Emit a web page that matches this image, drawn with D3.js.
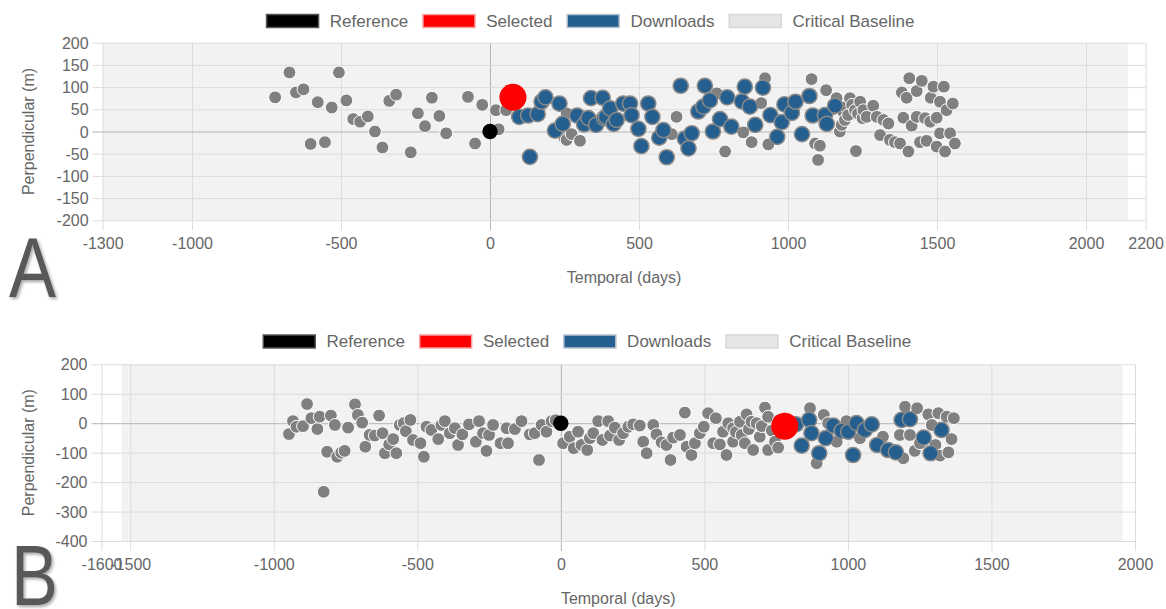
<!DOCTYPE html>
<html><head><meta charset="utf-8">
<script src="https://cdn.jsdelivr.net/npm/d3@7"></script>
<style>
html,body{margin:0;padding:0;background:#fff;}
svg{display:block;font-family:"Liberation Sans",Arial,sans-serif;}
</style></head>
<body><svg id="c" width="1166" height="609"></svg>
<script>
// ---------- DATA ----------
const legendLabels = ["Reference", "Selected", "Downloads", "Critical Baseline"];

// Chart A
const xTicksA = [-1300, -1000, -500, 0, 500, 1000, 1500, 2000, 2200];
const yTicksA = [-200, -150, -100, -50, 0, 50, 100, 150, 200];
const baselineA = [[-1300, -200], [2140, 200]];
const referenceA = [[0, 0]];
const selectedA = [[77, 77]];
const grayA = [[-721,77],[-673,133],[-651,88],[-626,95],[-602,-28],[-578,66],[-554,-24],[-531,54],[-507,133],[-482,70],[-459,28],[-436,22],[-410,34],[-386,0],[-361,-36],[-338,69],[-315,83],[-266,-47],[-242,41],[-218,12],[-195,76],[-170,35],[-147,-4],[-74,78],[-50,-27],[-26,60],[20,48],[29,5],[54,48],
[250,-15],[257,-19],[274,-6],[302,-21],[257,41],[414,15],[610,-6],[626,33],[761,86],[789,-45],
[850,-2],[878,-24],[910,64],[923,120],[934,-29],[1079,118],[1091,-27],[1101,-64],[1107,-32],[1128,93],[1150,50],[1163,75],[1174,0],[1180,15],[1185,45],[1191,26],[1195,55],[1202,37],[1208,75],[1215,60],[1225,48],[1228,-44],[1235,40],[1242,67],[1250,30],[1253,48],[1264,33],[1286,58],[1298,33],[1309,-8],[1320,26],[1337,18],[1342,-19],[1359,-24],[1376,-27],[1382,88],[1387,31],[1398,76],[1404,-45],[1407,120],[1415,13],[1432,91],[1432,33],[1443,-24],[1449,114],[1460,30],[1465,-21],[1477,22],[1479,76],[1488,101],[1499,31],[1499,-34],[1510,67],[1510,-4],[1523,101],[1527,-45],[1532,48],[1544,-4],[1553,63],[1560,-27]];
const downloadsA = [[98,33],[128,36],[160,39],[173,67],[186,77],[233,63],[134,-57],[218,2],[244,17],[292,36],[316,16],[330,30],[339,75],[378,76],[356,15],[383,30],[389,33],[403,52],[415,17],[425,26],[447,63],[470,63],[475,37],[498,6],[531,63],[545,33],[508,-33],[568,-14],[582,3],[593,-58],[640,103],[721,103],[654,-16],[666,-38],[677,-4],[699,45],[716,56],[738,70],[748,0],[772,28],[796,77],[810,11],[845,68],[855,101],[872,56],[890,15],[916,99],[941,37],[964,-12],[979,21],[988,61],[1013,42],[1025,67],[1047,-6],[1072,80],[1083,36],[1124,37],[1130,17],[1158,58]];

// Chart B
const xTicksB = [-1600, -1500, -1000, -500, 0, 500, 1000, 1500, 2000];
const yTicksB = [-400, -300, -200, -100, 0, 100, 200];
const baselineB = [[-1530, -400], [1957, 200]];
const referenceB = [[0, 0]];
const selectedB = [[780, -10]];
const grayB = [[-947,-37],[-933,7],[-921,-12],[-898,-10],[-884,65],[-869,17],[-848,-20],[-840,22],[-826,-233],[-814,-97],[-801,26],[-787,-6],[-779,-114],[-765,-100],[-753,-94],[-741,-15],[-717,64],[-707,28],[-692,2],[-681,-80],[-666,-40],[-648,-42],[-633,26],[-621,-34],[-613,-102],[-598,-72],[-584,-54],[-573,-102],[-561,-6],[-547,0],[-540,-27],[-524,11],[-515,-57],[-489,-68],[-477,-114],[-468,-12],[-451,-23],[-427,-54],[-416,-6],[-404,7],[-387,-34],[-369,-17],[-358,-74],[-343,-38],[-320,-4],[-296,-63],[-285,7],[-271,-34],[-259,-94],[-250,-40],[-236,-6],[-210,-68],[-189,-17],[-184,-68],[-160,-20],[-137,7],[-108,-38],[-91,-34],[-76,-125],[-67,-6],[-50,-29],[-32,7],[-18,10],[8,-68],[31,-46],[45,-85],[60,-29],[72,-74],[92,-91],[101,-51],[113,-34],[130,7],[145,-57],[165,7],[171,-42],[188,-15],[203,-57],[217,-34],[235,-12],[252,-4],[275,-8],[287,-63],[299,-102],[322,-6],[333,-38],[351,-65],[368,-74],[382,-125],[391,-49],[415,-40],[432,36],[438,-80],[455,-108],[467,-68],[484,-34],[498,-12],[513,34],[531,-68],[540,17],[554,-72],[565,-29],[577,-108],[583,0],[600,-63],[600,-17],[610,-30],[624,5],[630,-40],[641,-68],[647,30],[655,-20],[664,5],[670,-91],[682,0],[693,-46],[700,-10],[711,53],[722,22],[722,-91],[735,-25],[746,-63],[757,-83],[760,10],[868,51],[891,-136],[916,28],[931,0],[961,-63],[995,7],[1042,-51],[1122,-46],[1181,-40],[1193,-119],[1199,56],[1216,-40],[1233,-94],[1241,51],[1251,-68],[1280,30],[1292,-6],[1305,-74],[1315,34],[1321,-110],[1344,22],[1350,-99],[1361,-54],[1369,17]];
const downloadsB = [[819,-4],[839,-76],[865,11],[873,-34],[900,-102],[923,-51],[949,-8],[978,-26],[1001,-29],[1018,-108],[1030,0],[1059,-23],[1083,-4],[1102,-74],[1140,-91],[1167,-99],[1187,11],[1216,14],[1264,-49],[1288,-102],[1326,-23]];

// ---------- STYLE / LAYOUT ----------
const colors = {ref:"#000000", sel:"#ff0000", dl:"#245f8f", gray:"#808080", base:"#f2f2f2"};
const svg = d3.select("#c");
const defs = svg.append("defs");
const f = defs.append("filter").attr("id","shadow").attr("x","-20%").attr("y","-20%").attr("width","150%").attr("height","150%");
f.append("feDropShadow").attr("dx",2).attr("dy",2).attr("stdDeviation",1.8).attr("flood-color","#000").attr("flood-opacity",0.35);

function drawChart(o){
  const g = svg.append("g");
  const x = d3.scaleLinear().domain(d3.extent(o.xTicks)).range([o.left, o.right]);
  const y = d3.scaleLinear().domain(d3.extent(o.yTicks)).range([o.bottom, o.top]);
  const clipId = "clip"+o.id;
  defs.append("clipPath").attr("id",clipId).append("rect")
    .attr("x",o.left).attr("y",o.top).attr("width",o.right-o.left).attr("height",o.bottom-o.top);

  // baseline region
  g.append("rect").attr("clip-path",`url(#${clipId})`)
    .attr("x",x(o.baseline[0][0])).attr("y",y(o.baseline[1][1]))
    .attr("width",x(o.baseline[1][0])-x(o.baseline[0][0]))
    .attr("height",y(o.baseline[0][1])-y(o.baseline[1][1]))
    .attr("fill",colors.base);

  const fmt = d => String(d);
  // grid
  const xAxis = d3.axisBottom(x).tickValues(o.xTicks).tickSize(-(o.bottom-o.top)).tickFormat(fmt);
  const gx = g.append("g").attr("transform",`translate(0,${o.bottom})`).call(xAxis);
  gx.select(".domain").remove();
  gx.selectAll(".tick line").attr("y1",10).attr("stroke",d=>d===0?"#b4b4b4":"#dcdcdc").attr("stroke-width",1);
  gx.selectAll(".tick text").attr("y",23.5).attr("dy","0.35em").attr("fill","#666").attr("font-size",16)
    .attr("font-family","'Liberation Sans',Arial,sans-serif");
  const yAxis = d3.axisLeft(y).tickValues(o.yTicks).tickSize(-(o.right-o.left)).tickFormat(fmt);
  const gy = g.append("g").attr("transform",`translate(${o.left},0)`).call(yAxis);
  gy.select(".domain").remove();
  gy.selectAll(".tick line").attr("x1",-10).attr("stroke",d=>d===0?"#b4b4b4":"#dcdcdc").attr("stroke-width",1);
  gy.selectAll(".tick text").attr("x",-14).attr("dy","0.35em").attr("fill","#666").attr("font-size",16)
    .attr("font-family","'Liberation Sans',Arial,sans-serif");

  // titles
  g.append("text").attr("x",(o.left+o.right)/2).attr("y",o.xTitleY).attr("dy","0.35em")
    .attr("text-anchor","middle").attr("fill","#666").attr("font-size",16).text("Temporal (days)");
  g.append("text").attr("transform",`translate(28,${(o.top+o.bottom)/2}) rotate(-90)`).attr("dy","0.35em")
    .attr("text-anchor","middle").attr("fill","#666").attr("font-size",16).text("Perpendicular (m)");

  // points
  const pts = g.append("g").attr("clip-path",`url(#${clipId})`);
  pts.selectAll("circle.gr").data(o.gray).join("circle").attr("class","gr")
    .attr("cx",d=>x(d[0])).attr("cy",d=>y(d[1])).attr("r",6.4)
    .attr("fill",colors.gray).attr("stroke","#fff").attr("stroke-width",1);
  pts.selectAll("circle.dl").data(o.downloads).join("circle").attr("class","dl")
    .attr("cx",d=>x(d[0])).attr("cy",d=>y(d[1])).attr("r",7.6)
    .attr("fill",colors.dl).attr("stroke","#8a8a8a").attr("stroke-width",1.5);
  pts.selectAll("circle.rf").data(o.reference).join("circle").attr("class","rf")
    .attr("cx",d=>x(d[0])).attr("cy",d=>y(d[1])).attr("r",7.7).attr("fill",colors.ref);
  pts.selectAll("circle.sl").data(o.selected).join("circle").attr("class","sl")
    .attr("cx",d=>x(d[0])).attr("cy",d=>y(d[1])).attr("r",13.5).attr("fill",colors.sel);

  // legend
  const items = [
    {fill:colors.ref, stroke:"#555"},
    {fill:colors.sel, stroke:"#f7a0a0"},
    {fill:colors.dl, stroke:"#b7c3cf"},
    {fill:"#e5e5e5", stroke:"#d8d8d8"}
  ];
  const lg = g.append("g");
  let cx = o.legendX;
  legendLabels.forEach((lab,i)=>{
    lg.append("rect").attr("x",cx+0.75).attr("y",o.legendY-6.5).attr("width",52).attr("height",13)
      .attr("fill",items[i].fill).attr("stroke",items[i].stroke).attr("stroke-width",1.5);
    cx += 54 + 10;
    const t = lg.append("text").attr("x",cx).attr("y",o.legendY).attr("dy","0.35em")
      .attr("fill","#666").attr("font-size",17).text(lab);
    cx += t.node().getComputedTextLength() + 14;
  });

  // panel letter
  svg.append("text").attr("transform",`translate(${o.letterX},${o.letterY}) scale(0.82,1)`)
    .attr("font-size",86).attr("fill","#585858").attr("filter","url(#shadow)")
    .attr("font-family","'Liberation Sans',Arial,sans-serif").text(o.letter);
}

drawChart({id:"A", xTicks:xTicksA, yTicks:yTicksA, baseline:baselineA, gray:grayA, downloads:downloadsA,
  reference:referenceA, selected:selectedA, left:102.6, right:1145.6, top:42.7, bottom:220.3,
  xTitleY:277.5, legendX:265.8, legendY:21, letter:"A", letterX:9, letterY:297});
drawChart({id:"B", xTicks:xTicksB, yTicks:yTicksB, baseline:baselineB, gray:grayB, downloads:downloadsB,
  reference:referenceB, selected:selectedB, left:101.5, right:1135, top:364.3, bottom:541,
  xTitleY:598, legendX:262.5, legendY:341.5, letter:"B", letterX:11, letterY:605});
</script>
</body></html>
